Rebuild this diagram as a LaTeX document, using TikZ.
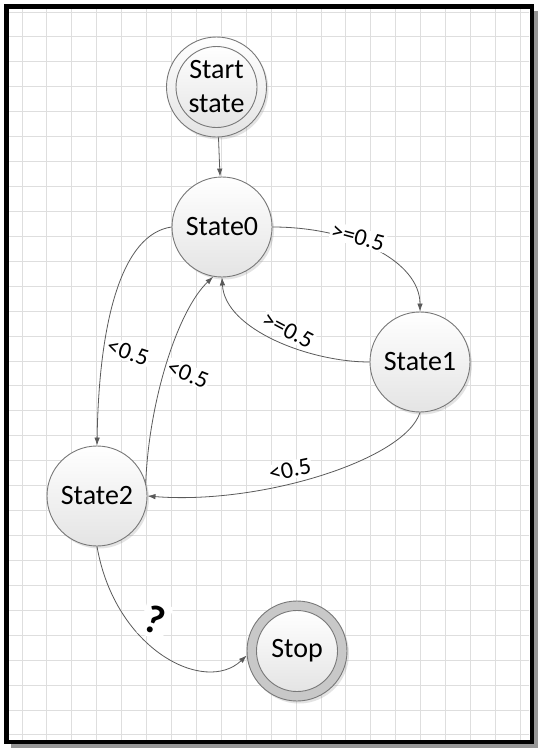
\documentclass[tikz,border=0pt]{standalone}
\usepackage{fontspec}
\setmainfont{Carlito}
\usetikzlibrary{arrows.meta,shadows}
\definecolor{gridc}{RGB}{222,222,222}
\definecolor{edgec}{RGB}{90,90,90}
\definecolor{ringc}{RGB}{120,120,120}
\definecolor{fillb}{RGB}{228,228,228}
\definecolor{stopband}{RGB}{200,200,200}
\definecolor{framesh}{RGB}{150,150,150}
\begin{document}
\begin{tikzpicture}[x=1pt,y=-1pt,
  stateshape/.style={circle, draw=ringc, line width=0.9pt, minimum size=100pt, inner sep=0pt,
    drop shadow={shadow xshift=2pt, shadow yshift=-2.5pt, opacity=0.22},
    font=\fontsize{28}{34}\selectfont, align=center},
  statebox/.style={stateshape, top color=white, bottom color=fillb},
  innerbox/.style={circle, draw=ringc, line width=0.9pt, minimum size=81pt, inner sep=0pt,
    top color=white, bottom color=fillb,
    font=\fontsize{28}{34}\selectfont, align=center},
  conn/.style={draw=edgec, line width=0.8pt, -{Latex[length=8pt,width=5.5pt]}},
  lbl/.style={fill=white, inner sep=1pt, font=\fontsize{24}{24}\selectfont}]
\useasboundingbox (0,0) rectangle (545,755);
\fill[white] (0,0) rectangle (545,755);
% grid
\begin{scope}
\clip (8.5,8.5) rectangle (529,739);
\foreach \k in {0,...,20} {\draw[gridc, line width=1pt] ({22+24.92*\k},0) -- ({22+24.92*\k},745);}
\foreach \k in {0,...,29} {\draw[gridc, line width=1pt] (0,{12+24.93*\k}) -- (535,{12+24.93*\k});}
\end{scope}
% frame
\fill[framesh] (534,11) rectangle (537.5,747.5);
\fill[framesh] (11,744) rectangle (537.5,747.5);
\draw[black, line width=4.5pt] (6.25,6.25) rectangle (531.75,741.75);
% states
\node[statebox] (start) at (216.5,87) {};
\node[innerbox] (starttx) at (start) {Start\\state};
\node[statebox] (s0) at (222,227) {State0};
\node[statebox] (s1) at (420,362) {State1};
\node[statebox] (s2) at (97,496) {State2};
\node[stateshape, fill=stopband] (stop) at (297,651) {};
\node[innerbox] (stoptx) at (stop) {Stop};
% connectors
\draw[conn] (start) -- (s0);
\draw[conn] (s0.east) .. controls +(80,0) and +(0,-50) .. (s1.north);
\draw[conn] (s1.west) .. controls +(-60,0) and +(3,52) .. (s0.south);
\draw[conn] (s0.west) .. controls (122,234) and (99,320) .. (s2.north);
\draw[conn] (s2.15) .. controls (149,400) and (178,310) .. (s0.260);
\draw[conn] (s1.south) .. controls (405,460) and (260,505) .. (s2.east);
\draw[conn] (s2.south) .. controls (115,650) and (205,695) .. (stop.185);
% labels
\node[lbl, rotate=-15] (l1) at (358,237) {>=0.5};
\node[lbl, rotate=-28] (l2) at (288,330) {>=0.5};
\node[lbl, rotate=-18] (l3) at (128,352) {<0.5};
\node[lbl, rotate=-22] (l4) at (188,374) {<0.5};
\node[lbl, rotate=12] (l5) at (290,470) {<0.5};
\node[lbl, rotate=-20, inner sep=4pt, font=\bfseries\fontsize{40}{40}\selectfont] (l6) at (155,620) {?};
\end{tikzpicture}
\end{document}
